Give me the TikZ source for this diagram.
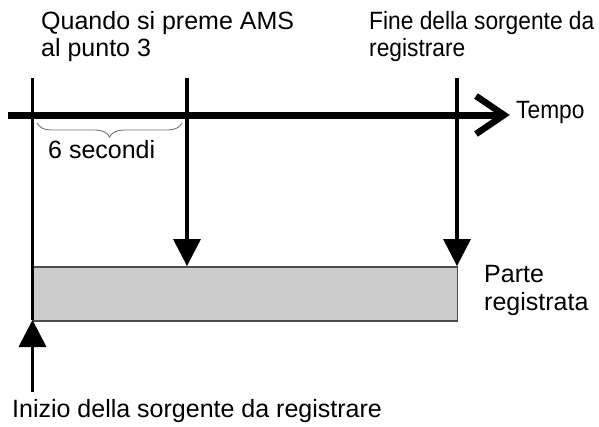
\documentclass[tikz,border=0pt]{standalone}
\usepackage{graphicx}
\usepackage{fontspec}
\setmainfont{Liberation Sans}
\usetikzlibrary{decorations.pathreplacing}
\newcommand\narrowtxt[1]{\scalebox{0.91}[1]{#1}}
\begin{document}
\begin{tikzpicture}[x=1pt,y=-1pt,
  lbl/.style={anchor=base west,inner sep=0pt,font=\fontsize{25}{29}\selectfont},
  vline/.style={line width=3.2pt,black},
  tri/.style={fill=black},
]
\useasboundingbox (0,0) rectangle (599,426);
% coordinates
\coordinate (axL) at (8,115);
\coordinate (axR) at (504,115);
\coordinate (lTop) at (32.5,78);
\coordinate (mTop) at (187,78);
\coordinate (rTop) at (457,78);
\coordinate (mTip) at (187,266);
\coordinate (rTip) at (457,266);
\coordinate (lBot) at (32.5,320);
\coordinate (uTip) at (32.5,320);
\coordinate (uBase) at (32.5,392);
\coordinate (bL) at (37,123);
\coordinate (bR) at (182,123);
% recorded part
\node[draw=black!70,line width=1.8pt,fill=black!20,minimum width=424pt,minimum height=54pt,inner sep=0pt,anchor=north west] (rec) at (32.5,266) {};
% axis
\draw[line width=7pt] (axL) -- (axR);
\draw[line width=6.5pt,line join=miter,line cap=butt] (476,96) -- (axR) -- (476,134);
% verticals
\draw[vline] (lTop) -- (lBot);
\draw[vline] (mTop) -- ([yshift=20pt]mTip);
\draw[vline] (rTop) -- ([yshift=20pt]rTip);
\fill[tri] (mTip) -- ++(-14,-27) -- ++(28,0) -- cycle;
\fill[tri] (rTip) -- ++(-14,-27) -- ++(28,0) -- cycle;
\draw[vline] (uBase) -- ([yshift=-20pt]uTip);
\fill[tri] (uTip) -- ++(-14,27) -- ++(28,0) -- cycle;
% brace
\draw[black!55,line width=0.9pt,decorate,decoration={brace,amplitude=14pt,aspect=0.5}] (bR) -- (bL);
% labels
\node[lbl] (t1a) at (41,29) {Quando si preme AMS};
\node[lbl] (t1b) at (41,56) {al punto 3};
\node[lbl] (t2a) at (369,29) {\narrowtxt{Fine della sorgente da}};
\node[lbl] (t2b) at (369,56) {\narrowtxt{registrare}};
\node[lbl] (t3) at (516,118) {\narrowtxt{Tempo}};
\node[lbl] (t4) at (48,158) {6 secondi};
\node[lbl] (t5a) at (484,282) {Parte};
\node[lbl] (t5b) at (484,310) {registrata};
\node[lbl] (t6) at (12,417) {Inizio della sorgente da registrare};
\end{tikzpicture}
\end{document}
